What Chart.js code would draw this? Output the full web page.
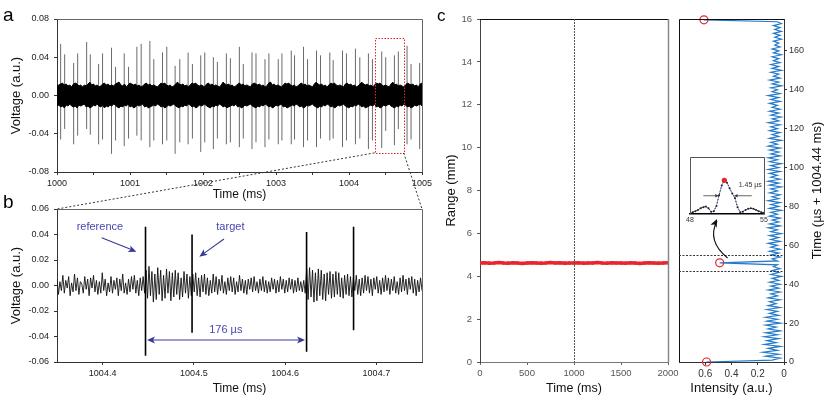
<!DOCTYPE html>
<html><head><meta charset="utf-8">
<script src="https://cdn.jsdelivr.net/npm/chart.js@4"></script>
<style>
html,body{margin:0;padding:0;background:#fff;}
#wrap{position:relative;width:831px;height:399px;overflow:hidden;background:#fff;}
canvas{position:absolute;left:0;top:0;}
</style></head><body>
<div id="wrap">
<canvas id="ca" width="831" height="399"></canvas>
<canvas id="cb" width="831" height="399"></canvas>
<canvas id="ccl" width="831" height="399"></canvas>
<canvas id="ccr" width="831" height="399"></canvas>
<canvas id="cin" width="831" height="399"></canvas>
</div>
<script>
// ---------------- DATA ----------------
// Panel a: noise envelope (sampled every 0.025 ms from 1000 ms) and echo spikes
const aTimeStart = 1000, aTimeStep = 0.025;
const aUpper = [.010,.011,.012,.013,.011,.012,.010,.011,.009,.012,
 .013,.012,.010,.011,.009,.011,.010,.012,.014,.011,
 .012,.010,.011,.009,.010,.012,.013,.011,.012,.010,
 .011,.010,.012,.013,.014,.011,.010,.012,.009,.011,
 .013,.012,.011,.012,.010,.011,.009,.010,.012,.013,
 .011,.012,.010,.011,.010,.009,.011,.013,.012,.013,
 .011,.010,.011,.009,.010,.012,.014,.012,.011,.012,
 .010,.011,.009,.011,.013,.012,.013,.011,.010,.011,
 .010,.009,.012,.013,.011,.012,.010,.011,.010,.009,
 .011,.014,.012,.011,.012,.010,.011,.009,.010,.012,
 .013,.011,.012,.010,.011,.010,.009,.012,.013,.012,
 .011,.012,.010,.011,.009,.010,.013,.014,.011,.012,
 .010,.011,.010,.009,.011,.013,.012,.013,.011,.010,
 .011,.009,.010,.012,.013,.011,.012,.010,.011,.010,
 .009,.012,.014,.012,.011,.012,.010,.011,.009,.011,
 .013,.012,.013,.011,.010,.011,.010,.009,.012,.013,
 .011,.012,.010,.011,.009,.010,.012,.014,.012,.011,
 .012,.010,.011,.009,.011,.013,.012,.013,.011,.010,
 .011,.010,.009,.012,.014,.011,.012,.010,.011,.010,
 .009,.011,.013,.012,.011,.012,.010,.011,.009,.012,
 .013];
const aLower = [-.011,-.010,-.012,-.011,-.013,-.010,-.011,-.009,-.011,-.012,
 -.011,-.013,-.010,-.011,-.010,-.009,-.012,-.011,-.013,-.012,
 -.010,-.011,-.009,-.011,-.012,-.010,-.013,-.011,-.012,-.010,
 -.011,-.009,-.010,-.012,-.013,-.011,-.012,-.010,-.011,-.009,
 -.012,-.011,-.013,-.012,-.010,-.011,-.010,-.009,-.012,-.011,
 -.013,-.012,-.011,-.010,-.011,-.009,-.010,-.012,-.011,-.013,
 -.012,-.010,-.011,-.010,-.009,-.011,-.012,-.013,-.011,-.012,
 -.010,-.011,-.009,-.010,-.012,-.011,-.013,-.012,-.010,-.011,
 -.010,-.009,-.011,-.012,-.013,-.011,-.012,-.010,-.011,-.009,
 -.010,-.012,-.011,-.013,-.012,-.011,-.010,-.011,-.009,-.012,
 -.011,-.013,-.012,-.010,-.011,-.010,-.009,-.011,-.012,-.013,
 -.011,-.012,-.010,-.011,-.009,-.010,-.012,-.011,-.013,-.012,
 -.010,-.011,-.010,-.009,-.012,-.011,-.013,-.012,-.011,-.010,
 -.011,-.009,-.010,-.012,-.011,-.013,-.012,-.010,-.011,-.010,
 -.009,-.011,-.012,-.013,-.011,-.012,-.010,-.011,-.009,-.010,
 -.012,-.011,-.013,-.012,-.010,-.011,-.010,-.009,-.011,-.012,
 -.013,-.011,-.012,-.010,-.011,-.009,-.010,-.012,-.011,-.013,
 -.012,-.011,-.010,-.011,-.009,-.012,-.011,-.013,-.012,-.010,
 -.011,-.010,-.009,-.011,-.012,-.013,-.011,-.012,-.010,-.011,
 -.009,-.010,-.012,-.011,-.013,-.012,-.010,-.011,-.010,-.009,
 -.011];
const aSpikeT = [1000.050,1000.105,1000.228,1000.283,1000.406,1000.456,1000.570,1000.624,1000.747,1000.802,
 1000.921,1000.980,1001.094,1001.153,1001.272,1001.326,1001.445,1001.504,1001.618,1001.682,
 1001.796,1001.855,1001.969,1002.024,1002.142,1002.197,1002.320,1002.375,1002.498,1002.552,
 1002.671,1002.726,1002.849,1002.903,1003.031,1003.081,1003.209,1003.254,1003.377,1003.432,
 1003.555,1003.610,1003.737,1003.783,1003.911,1003.965,1004.088,1004.148,1004.266,1004.321,
 1004.448,1004.503,1004.622,1004.676,1004.795,1004.850,1004.968];
const aSpikeHi = [.054,.043,.034,.044,.056,.043,.033,.044,.050,.030,
 .044,.030,.051,.054,.057,.038,.045,.051,.031,.038,
 .045,.033,.042,.045,.040,.035,.044,.039,.051,.033,
 .045,.044,.038,.044,.038,.044,.047,.042,.051,.038,
 .047,.042,.045,.037,.047,.044,.049,.040,.044,.038,
 .046,.040,.042,.046,.052,.033,.034];
const aSpikeLo = [-.046,-.035,-.051,-.042,-.035,-.041,-.051,-.046,-.061,-.047,
 -.053,-.045,-.042,-.047,-.054,-.047,-.051,-.047,-.061,-.049,
 -.051,-.045,-.059,-.049,-.056,-.045,-.051,-.049,-.054,-.045,
 -.056,-.049,-.054,-.046,-.051,-.047,-.051,-.046,-.054,-.047,
 -.054,-.045,-.047,-.045,-.054,-.047,-.051,-.045,-.056,-.047,
 -.055,-.037,-.052,-.035,-.051,-.046,-.056];
const aXTicks = [1000,1001,1002,1003,1004,1005];
const aXMinorTicks = [1000.5,1001.5,1002.5,1003.5,1004.5];
const aYTicks = [-0.08,-0.04,0,0.04,0.08];

// Panel b: zoomed trace, sampled every 1.6 us from 1004.35 ms
const bTimeStart = 1004.35, bTimeStep = 0.0016;
const bTimeMin = 1004.35, bTimeMax = 1004.75, bYMin = -0.06, bYMax = 0.06;
const bNoise = [.005,-.007,.003,-.004,.008,-.006,.004,-.002,.007,-.008,
 .002,-.005,.009,-.004,.006,-.007,.003,.001,-.006,.007,
 -.003,.005,-.008,.006,-.002,.008,-.005,.004,-.007,.003,
 -.006,.010,-.004,.005,-.008,.002,-.005,.007,-.006,.004,
 -.003,.006,-.008,.005,-.004,.009,-.006,.002,-.007,.005,
 -.005,.007,-.003,.008,-.006,.004,-.008,.006,-.004,.007,
 -.006,.012,-.010,.015,-.008,.011,-.013,.009,-.011,.014,
 -.007,.012,-.012,.008,-.010,.013,-.006,.011,-.012,.010,
 -.009,.012,-.007,.010,-.011,.006,-.009,.011,-.006,.009,
 -.010,.007,-.008,.009,-.005,.010,-.008,.006,-.009,.008,
 -.005,.009,-.007,.006,-.008,.004,-.006,.009,-.005,.007,
 -.007,.005,-.004,.008,-.006,.003,-.007,.006,-.004,.007,
 -.005,.006,-.007,.003,-.005,.008,-.004,.005,-.006,.004,
 -.007,.005,-.003,.006,-.005,.007,-.004,.003,-.006,.005,
 -.004,.007,-.005,.004,-.006,.003,-.005,.006,-.003,.005,
 -.006,.004,-.005,.007,-.003,.005,-.006,.004,-.005,.006,
 -.003,.005,-.006,.004,-.005,.006,-.004,.003,-.005,.004,
 -.006,.013,-.011,.014,-.009,.012,-.013,.010,-.012,.013,
 -.008,.012,-.011,.009,-.012,.010,-.007,.011,-.010,.009,
 -.009,.011,-.007,.010,-.009,.006,-.010,.008,-.007,.009,
 -.008,.007,-.009,.006,-.004,.008,-.007,.005,-.008,.006,
 -.006,.008,-.004,.007,-.006,.005,-.008,.006,-.003,.007,
 -.006,.004,-.007,.006,-.005,.008,-.004,.006,-.007,.005,
 -.004,.007,-.006,.003,-.007,.006,-.005,.008,-.004,.005,
 -.007,.006,-.003,.007,-.006,.005,-.008,.004,-.005,.006,
 -.004];
const bSpikeT = [1004.447,1004.498,1004.6235,1004.675];
const bSpikeHi = [0.046,0.040,0.042,0.046];
const bSpikeLo = [-0.055,-0.037,-0.052,-0.035];
const bXTicks = [1004.4,1004.5,1004.6,1004.7];
const bYTicks = [-0.06,-0.04,-0.02,0,0.02,0.04,0.06];

// Panel c (left): range vs time
const cRangeT = [0,50,100,150,200,250,300,350,400,450,500,550,600,650,700,750,800,850,900,950,
 1000,1050,1100,1150,1200,1250,1300,1350,1400,1450,1500,1550,1600,1650,1700,1750,1800,1850,1900,1950,2000];
const cRange = [4.62,4.63,4.61,4.62,4.64,4.62,4.61,4.63,4.62,4.60,
 4.62,4.63,4.62,4.61,4.62,4.64,4.62,4.63,4.61,4.62,
 4.62,4.63,4.61,4.62,4.62,4.64,4.62,4.61,4.63,4.62,
 4.62,4.61,4.63,4.62,4.60,4.62,4.63,4.62,4.61,4.62,
 4.63];
const cLeftXTicks = [0,500,1000,1500,2000];
const cLeftYTicks = [0,2,4,6,8,10,12,14,16];
const cMarkerTime = 1000;

// Panel c (right): intensity vs time, one sample per microsecond from 0 us
const cStepUs = 1;
const cIntensity = [.59,
 .09,.03,.14,.04,.16,.05,.12,.03,.15,.06,
 .13,.04,.15,.05,.14,.03,.12,.06,.14,.03,
 .13,.05,.14,.04,.11,.05,.13,.03,.12,.06,
 .11,.03,.12,.05,.10,.03,.12,.04,.10,.03,
 .11,.04,.09,.02,.10,.04,.09,.03,.08,.05,
 .49,.05,.09,.03,.10,.04,.11,.03,.10,.05,
 .12,.03,.10,.04,.11,.02,.10,.05,.12,.03,
 .11,.04,.09,.03,.11,.05,.10,.02,.11,.04,
 .10,.03,.12,.04,.09,.03,.11,.05,.10,.02,
 .11,.04,.12,.03,.10,.05,.11,.03,.12,.04,
 .10,.02,.11,.05,.12,.03,.10,.04,.11,.03,
 .12,.05,.10,.02,.11,.04,.09,.03,.11,.05,
 .10,.03,.12,.04,.09,.02,.10,.04,.11,.03,
 .09,.05,.11,.03,.10,.04,.12,.03,.09,.05,
 .10,.02,.09,.04,.11,.03,.08,.04,.10,.02,
 .09,.04,.10,.03,.08,.04,.09,.02,.08,.04,
 .09,.03,.07,.04,.08,.02,.07,.03,.08,.02,
 .07,.03,.08,.02,.05,.61];
const cPeakIdx = [0,51,176];
const cRightYTicks = [0,20,40,60,80,100,120,140,160];
const cRightXTicks = [0,0.2,0.4,0.6];
const cTimeMax = 176.4;
const cWindow = [46.8, 55.0];

// Inset: target peak, 48-55 us
const insetT = [48,48.25,48.5,48.75,49,49.25,49.5,49.75,50,50.25,50.5,50.75,51,51.25,51.5,51.75,52,52.25,52.5,52.75,53,53.25,53.5,53.75,54,54.25,54.5,54.75,55];
const insetI = [.02,.03,.05,.07,.10,.12,.13,.10,.04,.05,.14,.33,.50,.59,.55,.45,.36,.28,.12,.03,.04,.07,.09,.10,.09,.07,.05,.03,.02];
const insetPeakIdx = 13;
const insetXTicks = [48,55];
const insetFWHM = [50.72, 52.17];
const insetFWHMLabel = '1.45 µs';

// ---------------- HELPERS ----------------
const FONT = "'Liberation Sans', Arial, Helvetica, sans-serif";
function baseOpts(pad){
  return {responsive:false, animation:false, devicePixelRatio:1, events:[],
    layout:{padding:pad, autoPadding:false},
    plugins:{legend:{display:false}, tooltip:{enabled:false}},
    elements:{point:{radius:0}, line:{tension:0}}};
}
function fmt2(v){ return (Math.abs(v)<1e-9?0:v).toFixed(2); }
function axis(o){
  const ax = {
    type:'linear', min:o.min, max:o.max, reverse:!!o.reverse,
    afterBuildTicks: s => { s.ticks = o.ticks.map(v => ({value:v})); },
    afterFit: o.w!=null ? (s => { s.width = o.w; }) : (s => { s.height = o.h; }),
    grid:{drawOnChartArea:false, drawTicks:o.drawTicks!==false, tickLength:3, color:o.tickColor||'#333', lineWidth:1},
    border:{display:true, color:o.borderColor||'#333', width:o.bw||1},
    ticks:{padding:o.pad!=null?o.pad:3, color:o.labelColor||'#222', font:{family:FONT,size:o.fs||9},
      autoSkip:false, maxRotation:0, minRotation:0, callback:o.fmt},
    title:{display:!!o.title, text:o.title||'', color:'#111', font:{family:FONT,size:o.tfs||12.5}, padding:o.tpad||{top:0,bottom:0}}
  };
  if (o.position) ax.position = o.position;
  return ax;
}
function arrowHead(ctx,x1,y1,x2,y2,len,hw){
  const a=Math.atan2(y2-y1,x2-x1);
  ctx.beginPath();
  ctx.moveTo(x2,y2);
  ctx.lineTo(x2-len*Math.cos(a)+hw*Math.sin(a), y2-len*Math.sin(a)-hw*Math.cos(a));
  ctx.lineTo(x2-len*0.75*Math.cos(a), y2-len*0.75*Math.sin(a));
  ctx.lineTo(x2-len*Math.cos(a)-hw*Math.sin(a), y2-len*Math.sin(a)+hw*Math.cos(a));
  ctx.closePath(); ctx.fill();
}
function arrow(ctx,x1,y1,x2,y2,color,lw,len,hw){
  ctx.save(); ctx.strokeStyle=color; ctx.fillStyle=color; ctx.lineWidth=lw;
  const a=Math.atan2(y2-y1,x2-x1);
  ctx.beginPath(); ctx.moveTo(x1,y1); ctx.lineTo(x2-len*0.7*Math.cos(a), y2-len*0.7*Math.sin(a)); ctx.stroke();
  arrowHead(ctx,x1,y1,x2,y2,len,hw); ctx.restore();
}
function frame(ctx,a,color){
  ctx.save(); ctx.strokeStyle=color; ctx.lineWidth=1;
  ctx.beginPath(); ctx.moveTo(a.left, Math.round(a.top)+0.5); ctx.lineTo(Math.round(a.right)+0.5, Math.round(a.top)+0.5);
  ctx.lineTo(Math.round(a.right)+0.5, a.bottom); ctx.stroke(); ctx.restore();
}
function spikeSegments(ts,lo,hi){
  const d=[]; ts.forEach((t,i)=>{ d.push({x:t,y:lo[i]},{x:t,y:hi[i]},{x:t,y:null}); }); return d;
}

// ---------------- PANEL A ----------------
const aEnvT = aUpper.map((_,i)=>aTimeStart+i*aTimeStep);
const chartA = new Chart(document.getElementById('ca'), {
  type:'line',
  data:{datasets:[
    {data:aEnvT.map((t,i)=>({x:t,y:aUpper[i]})), borderColor:'#000', backgroundColor:'#000', borderWidth:1, fill:'+1', pointRadius:0, order:1},
    {data:aEnvT.map((t,i)=>({x:t,y:aLower[i]})), borderColor:'#000', borderWidth:1, fill:false, pointRadius:0, order:1},
    {data:spikeSegments(aSpikeT,aSpikeLo,aSpikeHi), borderColor:'#6a6a6a', borderWidth:1, fill:false, pointRadius:0, spanGaps:false, order:2}
  ]},
  options:Object.assign(baseOpts({left:0,top:19,right:409,bottom:197}), {scales:{
    x:axis({min:1000,max:1005,ticks:[...aXTicks,...aXMinorTicks].sort((p,q)=>p-q),h:30,pad:3,
      fmt:v=>aXTicks.includes(v)?String(v):'', title:'Time (ms)', tfs:12}),
    y:axis({min:-0.08,max:0.08,ticks:aYTicks,w:57,pad:5,fmt:fmt2,title:'Voltage (a.u.)',tfs:13,tpad:{top:9,bottom:0}})
  }}),
  plugins:[{id:'decoA', afterDraw(c){
    const ctx=c.ctx, a=c.chartArea, xs=c.scales.x, ys=c.scales.y;
    frame(ctx,a,'#666');
    ctx.save();
    const x1=xs.getPixelForValue(bTimeMin), x2=xs.getPixelForValue(bTimeMax);
    const y1=ys.getPixelForValue(bYMax), y2=ys.getPixelForValue(bYMin);
    ctx.strokeStyle='#e3242b'; ctx.lineWidth=1; ctx.setLineDash([1.5,1.5]);
    ctx.strokeRect(Math.round(x1)+0.5,Math.round(y1)+0.5,Math.round(x2-x1),Math.round(y2-y1));
    ctx.setLineDash([]);
    ctx.fillStyle='#000'; ctx.font='19px '+FONT; ctx.textBaseline='alphabetic'; ctx.textAlign='left';
    ctx.fillText('a',3,21);
    ctx.restore();
  }}]
});

// ---------------- PANEL B ----------------
const bAnn = {
  refText:[1004.397,0.046], refFrom:[1004.399,0.0375], refTo:[1004.437,0.0265],
  tgtText:[1004.540,0.0456], tgtFrom:[1004.533,0.0365], tgtTo:[1004.506,0.0226],
  perText:[1004.535,-0.035], perY:-0.0427
};
const chartB = new Chart(document.getElementById('cb'), {
  type:'line',
  data:{datasets:[
    {data:spikeSegments(bSpikeT,bSpikeLo,bSpikeHi), borderColor:'#000', borderWidth:1.6, fill:false, pointRadius:0, spanGaps:false, order:0},
    {data:bNoise.map((v,i)=>({x:bTimeStart+i*bTimeStep,y:v})), borderColor:'#111', borderWidth:0.9, fill:false, pointRadius:0, order:1}
  ]},
  options:Object.assign(baseOpts({left:0,top:209,right:409,bottom:3}), {scales:{
    x:axis({min:bTimeMin,max:bTimeMax,ticks:bXTicks,h:34,pad:3,fmt:v=>v.toFixed(1),title:'Time (ms)',tfs:12}),
    y:axis({min:bYMin,max:bYMax,ticks:bYTicks,w:57,pad:5,fmt:fmt2,title:'Voltage (a.u.)',tfs:13,tpad:{top:9,bottom:0}})
  }}),
  plugins:[{id:'decoB', afterDraw(c){
    const ctx=c.ctx, a=c.chartArea, xs=c.scales.x, ys=c.scales.y;
    const P=(p)=>[xs.getPixelForValue(p[0]), ys.getPixelForValue(p[1])];
    frame(ctx,a,'#666');
    ctx.save();
    const xa=chartA.scales.x, ya=chartA.scales.y;
    ctx.strokeStyle='#333'; ctx.lineWidth=1; ctx.setLineDash([2,2]);
    ctx.beginPath();
    ctx.moveTo(xa.getPixelForValue(bTimeMin), ya.getPixelForValue(bYMin)); ctx.lineTo(a.left, a.top);
    ctx.moveTo(xa.getPixelForValue(bTimeMax), ya.getPixelForValue(bYMin)); ctx.lineTo(a.right, a.top);
    ctx.stroke(); ctx.setLineDash([]);
    const txt='#4646b0', arr='#38389a';
    ctx.font='11px '+FONT; ctx.fillStyle=txt; ctx.textAlign='center'; ctx.textBaseline='middle';
    let p=P(bAnn.refText); ctx.fillText('reference',p[0],p[1]);
    p=P(bAnn.tgtText); ctx.fillText('target',p[0],p[1]);
    p=P(bAnn.perText); ctx.fillText('176 µs',p[0],p[1]);
    let f=P(bAnn.refFrom), t=P(bAnn.refTo); arrow(ctx,f[0],f[1],t[0],t[1],arr,1.1,8,3.5);
    f=P(bAnn.tgtFrom); t=P(bAnn.tgtTo); arrow(ctx,f[0],f[1],t[0],t[1],arr,1.1,8,3.5);
    const yA=ys.getPixelForValue(bAnn.perY), xL=xs.getPixelForValue(bSpikeT[0])+1.5, xR=xs.getPixelForValue(bSpikeT[2])-1.5;
    ctx.strokeStyle=arr; ctx.lineWidth=1.1; ctx.beginPath(); ctx.moveTo(xL+5,yA); ctx.lineTo(xR-5,yA); ctx.stroke();
    ctx.fillStyle=arr; arrowHead(ctx,xR,yA,xL,yA,8,3.5); arrowHead(ctx,xL,yA,xR,yA,8,3.5);
    ctx.fillStyle='#000'; ctx.font='19px '+FONT; ctx.textAlign='left'; ctx.textBaseline='alphabetic';
    ctx.fillText('b',3,208);
    ctx.restore();
  }}]
});

// ---------------- PANEL C LEFT ----------------
const chartCL = new Chart(document.getElementById('ccl'), {
  type:'line',
  data:{datasets:[
    {data:cRangeT.map((t,i)=>({x:t,y:cRange[i]})), borderColor:'#e8262d', borderWidth:3.5, fill:false,
     pointRadius:1.8, pointBackgroundColor:'#e8262d', pointBorderWidth:0}
  ]},
  options:Object.assign(baseOpts({left:440,top:19,right:163,bottom:3}), {scales:{
    x:axis({min:0,max:2000,ticks:cLeftXTicks,h:34,pad:3,fs:9.5,labelColor:'#555',tickColor:'#666',borderColor:'#777',fmt:v=>String(v),title:'Time (ms)',tfs:12.5}),
    y:axis({min:0,max:16,ticks:cLeftYTicks,w:40,pad:5,fs:9.5,labelColor:'#555',tickColor:'#555',borderColor:'#444',fmt:v=>String(v),title:'Range (mm)',tfs:13,tpad:{top:4,bottom:0}})
  }}),
  plugins:[{id:'decoCL', afterDraw(c){
    const ctx=c.ctx, a=c.chartArea, xs=c.scales.x;
    ctx.save();
    ctx.strokeStyle='#111'; ctx.lineWidth=1;
    ctx.beginPath(); ctx.moveTo(a.left,Math.round(a.top)+0.5); ctx.lineTo(a.right,Math.round(a.top)+0.5); ctx.stroke();
    ctx.strokeStyle='#888'; ctx.lineWidth=1.5;
    ctx.beginPath(); ctx.moveTo(Math.round(a.right)+0.5,a.top); ctx.lineTo(Math.round(a.right)+0.5,a.bottom); ctx.stroke();
    const xm=Math.round(xs.getPixelForValue(cMarkerTime))+0.5;
    ctx.strokeStyle='#555'; ctx.lineWidth=1; ctx.setLineDash([2,1]);
    ctx.beginPath(); ctx.moveTo(xm,a.top); ctx.lineTo(xm,a.bottom); ctx.stroke(); ctx.setLineDash([]);
    ctx.fillStyle='#000'; ctx.font='17px '+FONT; ctx.textAlign='left'; ctx.textBaseline='alphabetic';
    ctx.fillText('c',437,21);
    ctx.restore();
  }}]
});

// ---------------- PANEL C RIGHT ----------------
const cArrow = {from:[0.43,53.5], ctrl:[0.59,62.3], to:[0.51,72.5]};
const chartCR = new Chart(document.getElementById('ccr'), {
  type:'line',
  data:{datasets:[
    {data:cPeakIdx.map(i=>({x:cIntensity[i],y:i*cStepUs})), showLine:false, pointRadius:4, pointBorderColor:'#e3242b',
     pointBackgroundColor:'rgba(0,0,0,0)', pointBorderWidth:1.2, clip:false, order:0},
    {data:cIntensity.map((v,i)=>({x:v,y:i*cStepUs})), borderColor:'#2479c9', borderWidth:1.2, fill:false, pointRadius:0, order:1}
  ]},
  options:Object.assign(baseOpts({left:679,top:19,right:0,bottom:3}), {scales:{
    x:axis({min:0,max:0.8,reverse:true,ticks:cRightXTicks,h:34,pad:3,fs:10,labelColor:'#333',fmt:v=>v===0?'0':v.toFixed(1),title:'Intensity (a.u.)',tfs:13}),
    y:axis({min:0,max:cTimeMax,ticks:cRightYTicks,w:47,pad:2,fs:9,labelColor:'#333',position:'right',fmt:v=>String(v)})
  }}),
  plugins:[{id:'decoCR', afterDraw(c){
    const ctx=c.ctx, a=c.chartArea, xs=c.scales.x, ys=c.scales.y;
    const P=(p)=>[xs.getPixelForValue(p[0]), ys.getPixelForValue(p[1])];
    ctx.save();
    ctx.strokeStyle='#111'; ctx.lineWidth=1;
    ctx.beginPath(); ctx.moveTo(Math.round(a.left)+0.5,a.bottom); ctx.lineTo(Math.round(a.left)+0.5,Math.round(a.top)+0.5); ctx.lineTo(a.right,Math.round(a.top)+0.5); ctx.stroke();
    ctx.strokeStyle='#333'; ctx.setLineDash([2,1.5]);
    cWindow.forEach(tv=>{ const y=Math.round(ys.getPixelForValue(tv))+0.5; ctx.beginPath(); ctx.moveTo(a.left,y); ctx.lineTo(a.right,y); ctx.stroke(); });
    ctx.setLineDash([]);
    const f=P(cArrow.from), k=P(cArrow.ctrl), t=P(cArrow.to);
    ctx.strokeStyle='#111'; ctx.fillStyle='#111'; ctx.lineWidth=1.1;
    ctx.beginPath(); ctx.moveTo(f[0],f[1]); ctx.quadraticCurveTo(k[0],k[1],t[0],t[1]); ctx.stroke();
    arrowHead(ctx,k[0],k[1],t[0],t[1]-2,8,3.5);
    ctx.translate(817,(a.top+a.bottom)/2); ctx.rotate(-Math.PI/2);
    ctx.fillStyle='#111'; ctx.font='13px '+FONT; ctx.textAlign='center'; ctx.textBaseline='middle';
    ctx.fillText('Time (µs + 1004.44 ms)',0,0);
    ctx.restore();
  }}]
});

// ---------------- INSET ----------------
const chartIN = new Chart(document.getElementById('cin'), {
  type:'line',
  data:{datasets:[
    {data:[{x:insetT[insetPeakIdx],y:insetI[insetPeakIdx]}], showLine:false, pointRadius:2.6, pointBackgroundColor:'#e3242b', pointBorderWidth:0, clip:false, order:0},
    {data:insetT.map((t,i)=>({x:t,y:insetI[i]})), borderColor:'#222', borderWidth:1, borderDash:[1.2,1.8], fill:false,
     pointRadius:1, pointBackgroundColor:'#222', pointBorderWidth:0, order:1},
    {data:insetT.map((t,i)=>({x:t,y:insetI[i]})), borderColor:'#8a8ae6', borderWidth:0.8, fill:false, pointRadius:0, order:2}
  ]},
  options:Object.assign(baseOpts({left:690,top:157,right:67,bottom:171}), {scales:{
    x:axis({min:48,max:55,ticks:insetXTicks,h:14,pad:2,fs:7,labelColor:'#333',drawTicks:false,borderColor:'#000',bw:1.5,fmt:v=>String(v)}),
    y:{display:false,min:0,max:1}
  }}),
  plugins:[{id:'decoIN',
    beforeDraw(c){ const ctx=c.ctx,a=c.chartArea; ctx.save(); ctx.fillStyle='#fff'; ctx.fillRect(a.left,a.top,a.right-a.left,a.bottom-a.top); ctx.restore(); },
    afterDraw(c){
      const ctx=c.ctx, a=c.chartArea, xs=c.scales.x, ys=c.scales.y;
      ctx.save();
      ctx.strokeStyle='#555'; ctx.lineWidth=1;
      ctx.beginPath(); ctx.moveTo(Math.round(a.left)+0.5,a.bottom); ctx.lineTo(Math.round(a.left)+0.5,Math.round(a.top)+0.5);
      ctx.lineTo(Math.round(a.right)+0.5,Math.round(a.top)+0.5); ctx.lineTo(Math.round(a.right)+0.5,a.bottom); ctx.stroke();
      const yh=ys.getPixelForValue(0.32);
      arrow(ctx,xs.getPixelForValue(49.26),yh,xs.getPixelForValue(insetFWHM[0]),yh,'#222',0.7,4,1.8);
      arrow(ctx,xs.getPixelForValue(53.84),yh,xs.getPixelForValue(insetFWHM[1]),yh,'#222',0.7,4,1.8);
      ctx.fillStyle='#333'; ctx.font='7px '+FONT; ctx.textAlign='center'; ctx.textBaseline='middle';
      ctx.fillText(insetFWHMLabel, xs.getPixelForValue(53.7), ys.getPixelForValue(0.51));
      ctx.restore();
    }}]
});
</script>
</body></html>
